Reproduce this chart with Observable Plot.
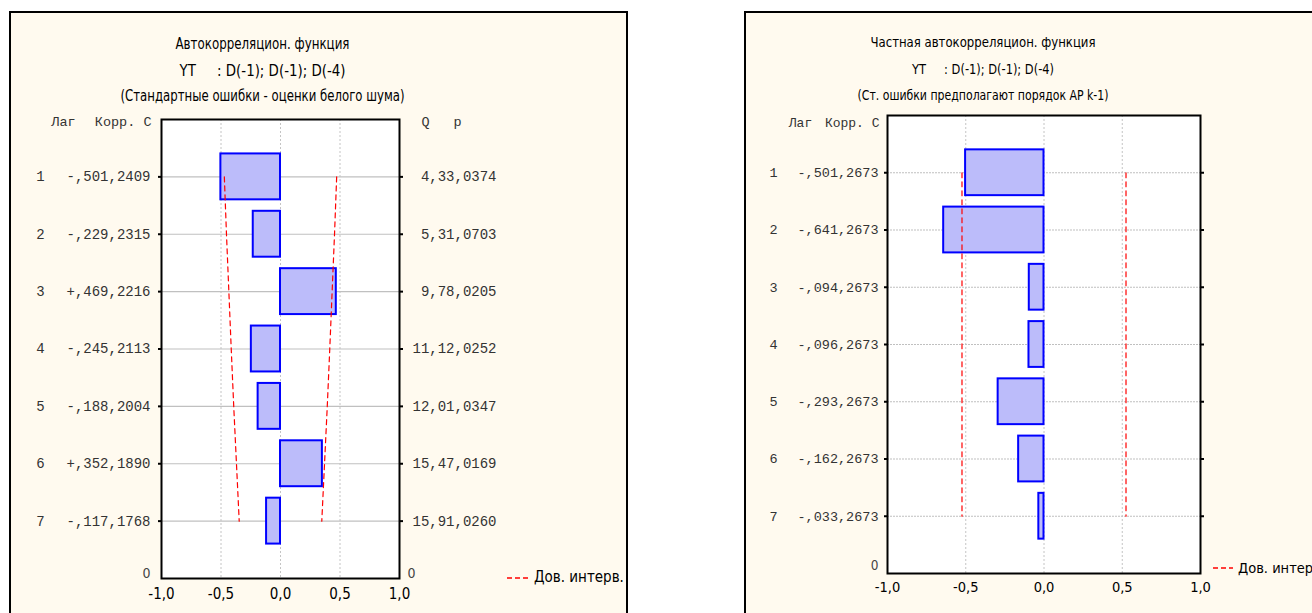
<!DOCTYPE html>
<html><head><meta charset="utf-8">
<script src="https://cdn.jsdelivr.net/npm/d3@7"></script>
<script src="https://cdn.jsdelivr.net/npm/@observablehq/plot@0.6"></script>
<style>
body{margin:0;background:#fff;width:1312px;height:613px;overflow:hidden;position:relative;}
.panel{position:absolute;box-sizing:border-box;border:2px solid #000;background:#fffaef;}
.chart{position:absolute;top:0;}
.chart svg{overflow:hidden;max-width:none;background:transparent;}
.legend{position:absolute;font-family:"Liberation Sans Narrow","Arial Narrow","DejaVu Sans Condensed",sans-serif;font-size:15px;white-space:nowrap;display:flex;align-items:center;line-height:1;}
.legend svg{margin-right:5px}
</style></head><body>
<div class="panel" style="left:9px;top:11px;width:619px;height:640px"></div>
<div class="panel" style="left:744px;top:11px;width:620px;height:640px"></div>
<div id="left" class="chart" style="left:0"></div>
<div id="right" class="chart" style="left:640px"></div>
<div class="legend" style="left:507px;top:570px"><svg width="22" height="4"><line x1="0" y1="2" x2="22" y2="2" stroke="#ff0000" stroke-width="1.3" stroke-dasharray="5,3"/></svg><span>Дов. интерв.</span></div>
<div class="legend" style="left:1213px;top:561px;font-size:14.5px"><svg width="20" height="4"><line x1="0" y1="2" x2="20" y2="2" stroke="#ff0000" stroke-width="1.3" stroke-dasharray="5,3"/></svg><span>Дов. интерв.</span></div>
<script>
// ---- data ----
const lags = [1, 2, 3, 4, 5, 6, 7];
const acf = [-0.501, -0.229, 0.469, -0.245, -0.188, 0.352, -0.117];
const acfSE = [0.2409, 0.2315, 0.2216, 0.2113, 0.2004, 0.1890, 0.1768];
const acfQ = [4.33, 5.31, 9.78, 11.12, 12.01, 15.47, 15.91];
const acfP = [0.0374, 0.0703, 0.0205, 0.0252, 0.0347, 0.0169, 0.0260];
const acfCI = [0.472, 0.454, 0.434, 0.414, 0.393, 0.370, 0.347];
const pacf = [-0.501, -0.641, -0.094, -0.096, -0.293, -0.162, -0.033];
const pacfSE = [0.2673, 0.2673, 0.2673, 0.2673, 0.2673, 0.2673, 0.2673];
const pacfCI = [0.524, 0.524, 0.524, 0.524, 0.524, 0.524, 0.524];
const xTicks = [-1, -0.5, 0, 0.5, 1];
const gridTicks = [-0.5, 0, 0.5];
const titlesACF = ["Автокорреляцион. функция", "YT     : D(-1); D(-1); D(-4)", "(Стандартные ошибки - оценки белого шума)"];
const titlesPACF = ["Частная автокорреляцион. функция", "YT     : D(-1); D(-1); D(-4)", "(Ст. ошибки предполагают порядок АР k-1)"];

const NARROW = '"Liberation Sans Narrow","Arial Narrow","DejaVu Sans Condensed",sans-serif';
const MONO = '"Liberation Mono","Courier New",monospace';

const fr = (v, n) => "," + Math.abs(v).toFixed(n).split(".")[1];
const corrFmt = v => (v < 0 ? "-" : "+") + fr(v, 3);
const tickFmt = v => v.toFixed(1).replace(".", ",");

function makePanel(o) {
  const rows = lags.map((lag, i) => ({lag, r: o.r[i], se: o.se[i], ci: o.ci[i], q: o.q ? o.q[i] : null, p: o.p ? o.p[i] : null}));
  const marks = [
    Plot.frame({fill: "white", stroke: null}),
    Plot.ruleX(gridTicks, {stroke: "#c4c4c4", strokeDasharray: "2,2"}),
    Plot.ruleY(rows, {y: "lag", stroke: "#c0c0c0", strokeWidth: 1.2, strokeDasharray: o.hDash}),
    Plot.rect(rows, {x1: 0, x2: "r", y1: d => d.lag - 0.4, y2: d => d.lag + 0.4, fill: "#bcbcfa", stroke: "#0000ff", strokeWidth: 2}),
    Plot.line(rows, {x: d => -d.ci, y: "lag", stroke: "#ff0000", strokeWidth: 1.2, strokeDasharray: "5,4"}),
    Plot.line(rows, {x: d => d.ci, y: "lag", stroke: "#ff0000", strokeWidth: 1.2, strokeDasharray: "5,4"}),
    Plot.frame({stroke: "#000", strokeWidth: 2}),
    Plot.axisY({anchor: "left", ticks: lags, tickSize: 3, tickFormat: () => "", label: null, stroke: "#000", strokeWidth: 2}),
    Plot.axisY({anchor: "right", ticks: lags, tickSize: 3, tickFormat: () => "", label: null, stroke: "#000", strokeWidth: 2}),
    // x tick labels
    Plot.text(xTicks, {x: d => d, frameAnchor: "bottom", dy: o.xdy, text: tickFmt, fontFamily: NARROW, fontSize: o.fs, fill: "#000", className: "xtl"}),
    // row labels
    Plot.text(rows, {y: "lag", frameAnchor: "left", dx: o.lagDx, text: d => String(d.lag), textAnchor: "middle", fontFamily: MONO, fontSize: o.mfs, fill: "#333"}),
    Plot.text(rows, {y: "lag", frameAnchor: "left", dx: o.corrDx, text: d => corrFmt(d.r) + fr(d.se, 4), textAnchor: "end", fontFamily: MONO, fontSize: o.mfs, fill: "#333"}),
    // headers
    Plot.text(["Лаг"], {frameAnchor: "top-left", dx: o.lagHdrDx, dy: o.hdrDy, textAnchor: "middle", fontFamily: MONO, fontSize: o.mfs - 0.5, fill: "#333"}),
    Plot.text(["Корр. С"], {frameAnchor: "top-left", dx: o.corrDx + 1, dy: o.hdrDy, textAnchor: "end", fontFamily: MONO, fontSize: o.mfs - 0.5, fill: "#333"}),
    Plot.text(["0"], {frameAnchor: "bottom-left", dx: o.corrDx, dy: o.zeroDy, textAnchor: "end", fontFamily: NARROW, fontSize: o.fs - 1, fill: "#444"}),
    // titles
    ...o.titles.map((t, i) => Plot.text([t], {frameAnchor: "top", dx: o.titleDx, dy: o.titleDy[i], textAnchor: "middle", fontFamily: NARROW, fontSize: o.tfs, fill: "#000", className: "ttl" + i}))
  ];
  if (o.q) {
    marks.push(
      Plot.text(rows, {y: "lag", frameAnchor: "right", dx: o.qDx, text: d => d.q.toFixed(2).replace(".", ",") + fr(d.p, 4), textAnchor: "end", fontFamily: MONO, fontSize: o.mfs, fill: "#333"}),
      Plot.text(["Q"], {frameAnchor: "top-right", dx: 26, dy: o.hdrDy, textAnchor: "middle", fontFamily: MONO, fontSize: o.mfs - 0.5, fill: "#333"}),
      Plot.text(["p"], {frameAnchor: "top-right", dx: 58, dy: o.hdrDy, textAnchor: "middle", fontFamily: MONO, fontSize: o.mfs - 0.5, fill: "#333"}),
      Plot.text(["0"], {frameAnchor: "bottom-right", dx: 12, dy: o.zeroDy, textAnchor: "middle", fontFamily: NARROW, fontSize: o.fs - 1, fill: "#444"})
    );
  }
  const svg = Plot.plot({
    width: o.width, height: 613,
    marginLeft: o.ml, marginRight: o.mr, marginTop: o.mt, marginBottom: o.mb,
    x: {domain: [-1, 1], axis: null},
    y: {domain: [0, 8], reverse: true, axis: null},
    style: {background: "transparent", overflow: "visible"},
    marks
  });
  // condense title glyphs to the reference's narrow face
  o.titleW.forEach((w, i) => svg.querySelectorAll(".ttl" + i + " text").forEach(t => {
    t.setAttribute("textLength", w);
    t.setAttribute("lengthAdjust", "spacingAndGlyphs");
  }));
  return svg;
}

document.getElementById("left").appendChild(makePanel({
  r: acf, se: acfSE, ci: acfCI, q: acfQ, p: acfP, titles: titlesACF, hDash: null,
  width: 640, ml: 161, mr: 241, mt: 119, mb: 35,
  xdy: 20, fs: 15, mfs: 14, tfs: 15, titleW: [174, 166, 284],
  lagDx: -121, corrDx: -11, qDx: 97, lagHdrDx: -98, hdrDy: -3, zeroDy: -1,
  titleDx: -18, titleDy: [-81, -54, -29]
}));
document.getElementById("right").appendChild(makePanel({
  r: pacf, se: pacfSE, ci: pacfCI, q: null, p: null, titles: titlesPACF, hDash: "2,1",
  width: 672, ml: 247, mr: 112, mt: 115, mb: 40,
  xdy: 18, fs: 14.5, mfs: 13.5, tfs: 14, titleW: [225, 142, 251],
  lagDx: -114, corrDx: -9, lagHdrDx: -87, hdrDy: 2, zeroDy: -4,
  titleDx: -61, titleDy: [-78, -51, -25]
}));
</script>
</body></html>
